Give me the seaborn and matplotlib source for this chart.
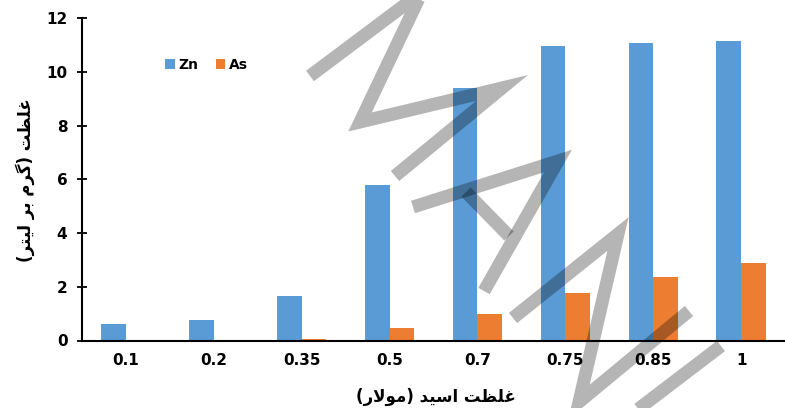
import numpy as np
import pandas as pd
import matplotlib
matplotlib.use("Agg")
import matplotlib.pyplot as plt
from matplotlib.lines import Line2D
import seaborn as sns

# ---- data -------------------------------------------------------------
acid_labels = ["0.1", "0.2", "0.35", "0.5", "0.7", "0.75", "0.85", "1"]
zn_values = [0.62, 0.77, 1.67, 5.80, 9.40, 10.97, 11.07, 11.14]
as_values = [0.00, 0.00, 0.06, 0.46, 0.98, 1.76, 2.38, 2.89]
metals = ["Zn", "As"]
y_ticks = [0, 2, 4, 6, 8, 10, 12]

x_title = "غلظت اسید (مولار)"
y_title = "غلظت (گرم بر لیتر)"

ZN_COLOR = "#5B9BD5"
AS_COLOR = "#ED7D31"

# ---- simple Persian shaping (contextual forms + visual order) ----------
# letter: (isolated, final, initial, medial); None for non-left-joining
FORMS = {
    "غ": ("\uFECD", "\uFECE", "\uFECF", "\uFED0"),
    "ل": ("\uFEDD", "\uFEDE", "\uFEDF", "\uFEE0"),
    "ظ": ("\uFEC5", "\uFEC6", "\uFEC7", "\uFEC8"),
    "ت": ("\uFE95", "\uFE96", "\uFE97", "\uFE98"),
    "گ": ("\uFB92", "\uFB93", "\uFB94", "\uFB95"),
    "م": ("\uFEE1", "\uFEE2", "\uFEE3", "\uFEE4"),
    "ب": ("\uFE8F", "\uFE90", "\uFE91", "\uFE92"),
    "ی": ("\uFBFC", "\uFBFD", "\uFBFE", "\uFBFF"),
    "س": ("\uFEB1", "\uFEB2", "\uFEB3", "\uFEB4"),
    "ر": ("\uFEAD", "\uFEAE", None, None),
    "ا": ("\uFE8D", "\uFE8E", None, None),
    "د": ("\uFEA9", "\uFEAA", None, None),
    "و": ("\uFEED", "\uFEEE", None, None),
}
LAM_ALEF = ("\uFEFB", "\uFEFC")
MIRROR = {"(": ")", ")": "("}


def dual(ch):
    return ch in FORMS and FORMS[ch][2] is not None


def shape_rtl(text):
    out = []
    i = 0
    n = len(text)
    while i < n:
        ch = text[i]
        prev = text[i - 1] if i > 0 else ""
        joins_prev = dual(prev)
        if ch == "ل" and i + 1 < n and text[i + 1] == "ا":
            out.append(LAM_ALEF[1] if joins_prev else LAM_ALEF[0])
            i += 2
            continue
        if ch in FORMS:
            nxt = text[i + 1] if i + 1 < n else ""
            joins_next = dual(ch) and nxt in FORMS
            iso, fin, ini, med = FORMS[ch]
            if joins_prev and joins_next:
                out.append(med)
            elif joins_prev:
                out.append(fin)
            elif joins_next:
                out.append(ini)
            else:
                out.append(iso)
        else:
            out.append(MIRROR.get(ch, ch))
        i += 1
    return "".join(reversed(out))


# ---- figure -----------------------------------------------------------
sns.set_theme(style="white")
plt.rcParams["font.family"] = ["DejaVu Sans"]
plt.rcParams["font.weight"] = "bold"
plt.rcParams["text.color"] = "black"
plt.rcParams["axes.labelcolor"] = "black"
plt.rcParams["xtick.color"] = "black"
plt.rcParams["ytick.color"] = "black"

W, H = 785, 408
fig = plt.figure(figsize=(W / 100, H / 100), dpi=100)
ax = fig.add_axes([82 / W, 67.5 / H, (W - 82) / W, (340.5 - 18.3) / H])

df = pd.DataFrame({
    "acid": acid_labels * 2,
    "metal": [metals[0]] * len(acid_labels) + [metals[1]] * len(acid_labels),
    "conc": zn_values + as_values,
})

sns.barplot(
    data=df, x="acid", y="conc", hue="metal",
    order=acid_labels, hue_order=metals,
    palette=[ZN_COLOR, AS_COLOR], width=0.56, gap=0,
    saturation=1, errorbar=None, linewidth=0, ax=ax,
)

ax.set_xlim(-0.5, len(acid_labels) - 0.5)
ax.set_ylim(0, 12)
ax.set_yticks(y_ticks)
ax.set_yticklabels([str(t) for t in y_ticks])
ax.set_xlabel("")
ax.set_ylabel("")

for side in ("top", "right"):
    ax.spines[side].set_visible(False)
for side in ("left", "bottom"):
    ax.spines[side].set_linewidth(1.5)
    ax.spines[side].set_color("black")

ax.set_xticks(np.arange(-0.5, len(acid_labels) + 0.5, 1), minor=True)
ax.tick_params(axis="x", which="major", direction="in", length=2, width=1.2,
               colors="black", pad=9, labelsize=11)
ax.tick_params(axis="x", which="minor", direction="inout", length=7, width=1.3,
               colors="black")
ax.tick_params(axis="y", which="major", direction="inout", length=7, width=1.3,
               colors="black", pad=7, labelsize=11, left=True)
for lab in ax.get_xticklabels() + ax.get_yticklabels():
    lab.set_fontweight("bold")

sns.move_legend(
    ax, loc="center left", bbox_to_anchor=(0.118, 0.855),
    ncol=2, frameon=False, title=None, fontsize=10,
    handlelength=0.7, handleheight=0.7, handletextpad=0.3,
    columnspacing=1.2, borderpad=0, borderaxespad=0,
)
for t in ax.get_legend().get_texts():
    t.set_fontweight("bold")
    t.set_color("black")

fig.text(436 / W, 1 - 397 / H, shape_rtl(x_title), ha="center", va="center",
         fontsize=12, fontweight="bold", color="black")
fig.text(25 / W, 1 - 180 / H, shape_rtl(y_title), ha="center", va="center",
         rotation=90, fontsize=12, fontweight="bold", color="black")

# translucent stroke overlay across the plot
overlay_strokes = [
    [(310, 76), (422, -8), (360, 122), (502, 88), (395, 176)],
    [(413, 207), (558, 161), (484, 291)],
    [(466, 192), (509, 236)],
    [(513, 318), (618, 234), (579, 402), (689, 311)],
    [(637, 410), (721, 346)],
]
for pts in overlay_strokes:
    xs = [p[0] / W for p in pts]
    ys = [1 - p[1] / H for p in pts]
    fig.add_artist(Line2D(xs, ys, transform=fig.transFigure, color="black",
                          alpha=0.29, linewidth=9.4, solid_joinstyle="miter",
                          solid_capstyle="butt"))

fig.savefig("out.png", dpi=100)
